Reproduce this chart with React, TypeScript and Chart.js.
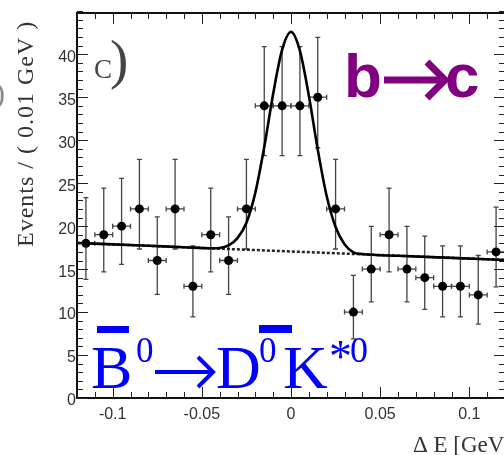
import React, { useEffect, useRef } from 'react';
import { Chart, registerables } from 'chart.js';

Chart.register(...registerables);

// ---- data ----
const binCenters = [
  -0.115, -0.105, -0.095, -0.085, -0.075, -0.065, -0.055, -0.045, -0.035, -0.025, -0.015, -0.005,
  0.005, 0.015, 0.025, 0.035, 0.045, 0.055, 0.065, 0.075, 0.085, 0.095, 0.105, 0.115,
];
const events = [18, 19, 20, 22, 16, 22, 13, 19, 16, 22, 34, 34, 34, 35, 22, 10, 15, 19, 15, 14, 13, 13, 12, 17];
const errLow = [
  4.2, 4.32, 4.44, 4.66, 3.95, 4.66, 3.55, 4.32, 3.95, 4.66, 5.8, 5.8,
  5.8, 5.88, 4.66, 3.11, 3.82, 4.32, 3.82, 3.69, 3.55, 3.55, 3.41, 4.08,
];
const errHigh = [
  5.32, 5.43, 5.55, 5.76, 5.08, 5.76, 4.71, 5.43, 5.08, 5.76, 6.88, 6.88,
  6.88, 6.97, 5.76, 4.26, 4.96, 5.43, 4.96, 4.83, 4.71, 4.71, 4.58, 5.2,
];
const binHalfWidth = 0.005;

// fit curve (signal + background)
const fitX = [-0.12, -0.08, -0.06, -0.045, -0.04, -0.035, -0.03, -0.025, -0.02, -0.015, -0.01, -0.005, 0,
  0.005, 0.01, 0.015, 0.02, 0.025, 0.03, 0.035, 0.04, 0.06, 0.09, 0.12];
const fitY = [18.04, 17.71, 17.55, 17.42, 17.45, 17.75, 18.6, 20.4, 23.9, 29.2, 35.4, 40.5, 42.6,
  40.4, 35.2, 28.9, 23.5, 19.9, 17.9, 16.95, 16.75, 16.55, 16.3, 16.06];

// background-only component (dotted)
const bgX = [-0.12, 0.12];
const bgY = [18.04, 16.06];

// axes
const xRange = [-0.12, 0.12];
const yRange = [0, 44.8];
const xTickValues = [-0.1, -0.05, 0, 0.05, 0.1];
const yTickValues = [0, 5, 10, 15, 20, 25, 30, 35, 40];
const xMinorStep = 0.01;
const yMinorStep = 1;

const SERIF = '"Liberation Serif", "Times New Roman", serif';
const SANS = '"Liberation Sans", Arial, sans-serif';

function drawArrow(ctx: any, x0: number, x1: number, y: number, head: number, lw: number) {
  ctx.save();
  ctx.lineWidth = lw;
  ctx.lineCap = 'butt';
  ctx.lineJoin = 'miter';
  ctx.beginPath();
  ctx.moveTo(x0, y);
  ctx.lineTo(x1 - lw * 0.5, y);
  ctx.stroke();
  ctx.beginPath();
  ctx.moveTo(x1 - head, y - head);
  ctx.lineTo(x1, y);
  ctx.lineTo(x1 - head, y + head);
  ctx.stroke();
  ctx.restore();
}

const decorPlugin = {
  id: 'decor',
  beforeDatasetsDraw(chart: any) {
    const ctx = chart.ctx;
    const xs = chart.scales.x;
    const ys = chart.scales.y;
    ctx.save();
    ctx.strokeStyle = '#444';
    ctx.lineWidth = 1.3;
    binCenters.forEach((c, i) => {
      const px = xs.getPixelForValue(c);
      const py = ys.getPixelForValue(events[i]);
      const yTop = ys.getPixelForValue(events[i] + errHigh[i]);
      const yBot = ys.getPixelForValue(events[i] - errLow[i]);
      const xl = xs.getPixelForValue(c - binHalfWidth);
      const xr = xs.getPixelForValue(c + binHalfWidth);
      ctx.beginPath();
      ctx.moveTo(px, yTop); ctx.lineTo(px, yBot);
      ctx.moveTo(px - 2.5, yTop); ctx.lineTo(px + 2.5, yTop);
      ctx.moveTo(px - 2.5, yBot); ctx.lineTo(px + 2.5, yBot);
      ctx.moveTo(xl, py); ctx.lineTo(xr, py);
      ctx.moveTo(xl, py - 2.5); ctx.lineTo(xl, py + 2.5);
      ctx.moveTo(xr, py - 2.5); ctx.lineTo(xr, py + 2.5);
      ctx.stroke();
    });
    ctx.restore();
  },
  afterDraw(chart: any) {
    const ctx = chart.ctx;
    const xs = chart.scales.x;
    const ys = chart.scales.y;
    const { left, right, top, bottom } = chart.chartArea;
    ctx.save();
    // frame
    ctx.strokeStyle = '#111';
    ctx.lineWidth = 2;
    ctx.strokeRect(left, top, right - left, bottom - top);
    // inward ticks
    ctx.lineWidth = 1;
    ctx.strokeStyle = '#222';
    ctx.beginPath();
    const nY = Math.round((yRange[1] - yRange[0]) / yMinorStep);
    for (let k = 0; k <= nY; k++) {
      const v = yRange[0] + k * yMinorStep;
      const major = yTickValues.some((t) => Math.abs(t - v) < 1e-9);
      const len = major ? 11 : 6;
      const py = Math.round(ys.getPixelForValue(v)) + 0.5;
      ctx.moveTo(left, py); ctx.lineTo(left + len, py);
      ctx.moveTo(right, py); ctx.lineTo(right - len, py);
    }
    const nX = Math.round((xRange[1] - xRange[0]) / xMinorStep);
    for (let k = 0; k <= nX; k++) {
      const v = xRange[0] + k * xMinorStep;
      const major = xTickValues.some((t) => Math.abs(t - v) < 1e-9);
      const len = major ? 11 : 6;
      const px = Math.round(xs.getPixelForValue(v)) + 0.5;
      ctx.moveTo(px, bottom); ctx.lineTo(px, bottom - len);
      ctx.moveTo(px, top); ctx.lineTo(px, top + len);
    }
    ctx.stroke();

    ctx.textAlign = 'left';
    ctx.textBaseline = 'alphabetic';

    // y axis title
    ctx.save();
    ctx.fillStyle = '#333';
    ctx.font = `24px ${SERIF}`;
    (ctx as any).letterSpacing = '1px';
    ctx.translate(33, 247);
    ctx.rotate(-Math.PI / 2);
    ctx.fillText('Events / ( 0.01 GeV )', 0, 0);
    ctx.restore();

    // x axis title
    ctx.fillStyle = '#333';
    ctx.font = `23px ${SERIF}`;
    ctx.fillText('\u0394 E [GeV]', 413, 452);

    // partial glyph at left edge
    ctx.fillStyle = '#888';
    ctx.font = `30px ${SERIF}`;
    ctx.fillText(')', -5, 103);

    // panel label c)
    ctx.fillStyle = '#444';
    ctx.font = `27px ${SERIF}`;
    ctx.fillText('C', 94, 78);
    ctx.font = `55px ${SERIF}`;
    ctx.fillText(')', 110, 78);

    // b -> c
    ctx.fillStyle = '#800080';
    ctx.strokeStyle = '#800080';
    ctx.font = `bold 62px ${SANS}`;
    ctx.fillText('b', 344, 97);
    drawArrow(ctx, 384, 445, 80, 18, 7);
    ctx.fillText('c', 445, 97);

    // B0bar -> D0bar K*0
    ctx.fillStyle = '#0000ff';
    ctx.strokeStyle = '#0000ff';
    ctx.font = `62px ${SERIF}`;
    ctx.fillText('B', 91, 388);
    ctx.fillRect(97, 326, 32, 7);
    ctx.font = `35px ${SERIF}`;
    ctx.fillText('0', 136, 362);
    drawArrow(ctx, 155, 213, 372, 15, 4);
    ctx.font = `62px ${SERIF}`;
    ctx.fillText('D', 216, 388);
    ctx.font = `35px ${SERIF}`;
    ctx.fillText('0', 259, 362);
    ctx.fillRect(259, 325, 33, 8);
    ctx.font = `62px ${SERIF}`;
    ctx.fillText('K', 283, 388);
    ctx.font = `46px ${SERIF}`;
    ctx.fillText('*', 329, 372);
    ctx.font = `36px ${SERIF}`;
    ctx.fillText('0', 350, 362);

    ctx.restore();
  },
};

export default function App() {
  const canvasRef = useRef<HTMLCanvasElement | null>(null);

  useEffect(() => {
    document.body.style.margin = '0';
    const canvas = canvasRef.current;
    if (!canvas) return;
    const chart = new Chart(canvas, {
      type: 'scatter',
      data: {
        datasets: [
          {
            type: 'scatter',
            label: 'data',
            data: binCenters.map((x, i) => ({ x, y: events[i] })),
            pointRadius: 4.5,
            pointBackgroundColor: '#000',
            pointBorderWidth: 0,
            pointBorderColor: '#000',
          },
          {
            type: 'line',
            label: 'fit',
            data: fitX.map((x, i) => ({ x, y: fitY[i] })),
            borderColor: '#000',
            borderWidth: 2.6,
            pointRadius: 0,
            fill: false,
            cubicInterpolationMode: 'monotone',
          },
          {
            type: 'line',
            label: 'background',
            data: bgX.map((x, i) => ({ x, y: bgY[i] })),
            borderColor: '#222',
            borderWidth: 2.5,
            borderDash: [3, 2],
            pointRadius: 0,
            fill: false,
          },
        ],
      } as any,
      options: {
        responsive: false,
        animation: false,
        devicePixelRatio: 1,
        events: [],
        layout: { padding: { top: 13, right: 7, left: 0, bottom: 0 } },
        plugins: { legend: { display: false }, tooltip: { enabled: false } },
        scales: {
          x: {
            type: 'linear',
            min: xRange[0],
            max: xRange[1],
            grid: { display: false, drawTicks: false },
            border: { display: false },
            afterBuildTicks: (s: any) => { s.ticks = xTickValues.map((v) => ({ value: v })); },
            afterFit: (s: any) => { s.height = 57; },
            ticks: {
              padding: 7,
              color: '#333',
              font: { family: SANS, size: 16 },
              maxRotation: 0,
              autoSkip: false,
              callback: (v: any) => String(Math.round(Number(v) * 100) / 100),
            },
          },
          y: {
            type: 'linear',
            min: yRange[0],
            max: yRange[1],
            grid: { display: false, drawTicks: false },
            border: { display: false },
            afterBuildTicks: (s: any) => { s.ticks = yTickValues.map((v) => ({ value: v })); },
            afterFit: (s: any) => { s.width = 77; },
            ticks: {
              padding: 1,
              labelOffset: 3,
              color: '#333',
              font: { family: SANS, size: 16 },
              autoSkip: false,
              callback: (v: any) => String(v),
            },
          },
        },
      } as any,
      plugins: [decorPlugin],
    });
    return () => chart.destroy();
  }, []);

  return (
    <div style={{ position: 'fixed', left: 0, top: 0, width: 504, height: 455, overflow: 'hidden', background: '#fff' }}>
      <canvas ref={canvasRef} width={512} height={455} style={{ display: 'block' }} />
    </div>
  );
}
